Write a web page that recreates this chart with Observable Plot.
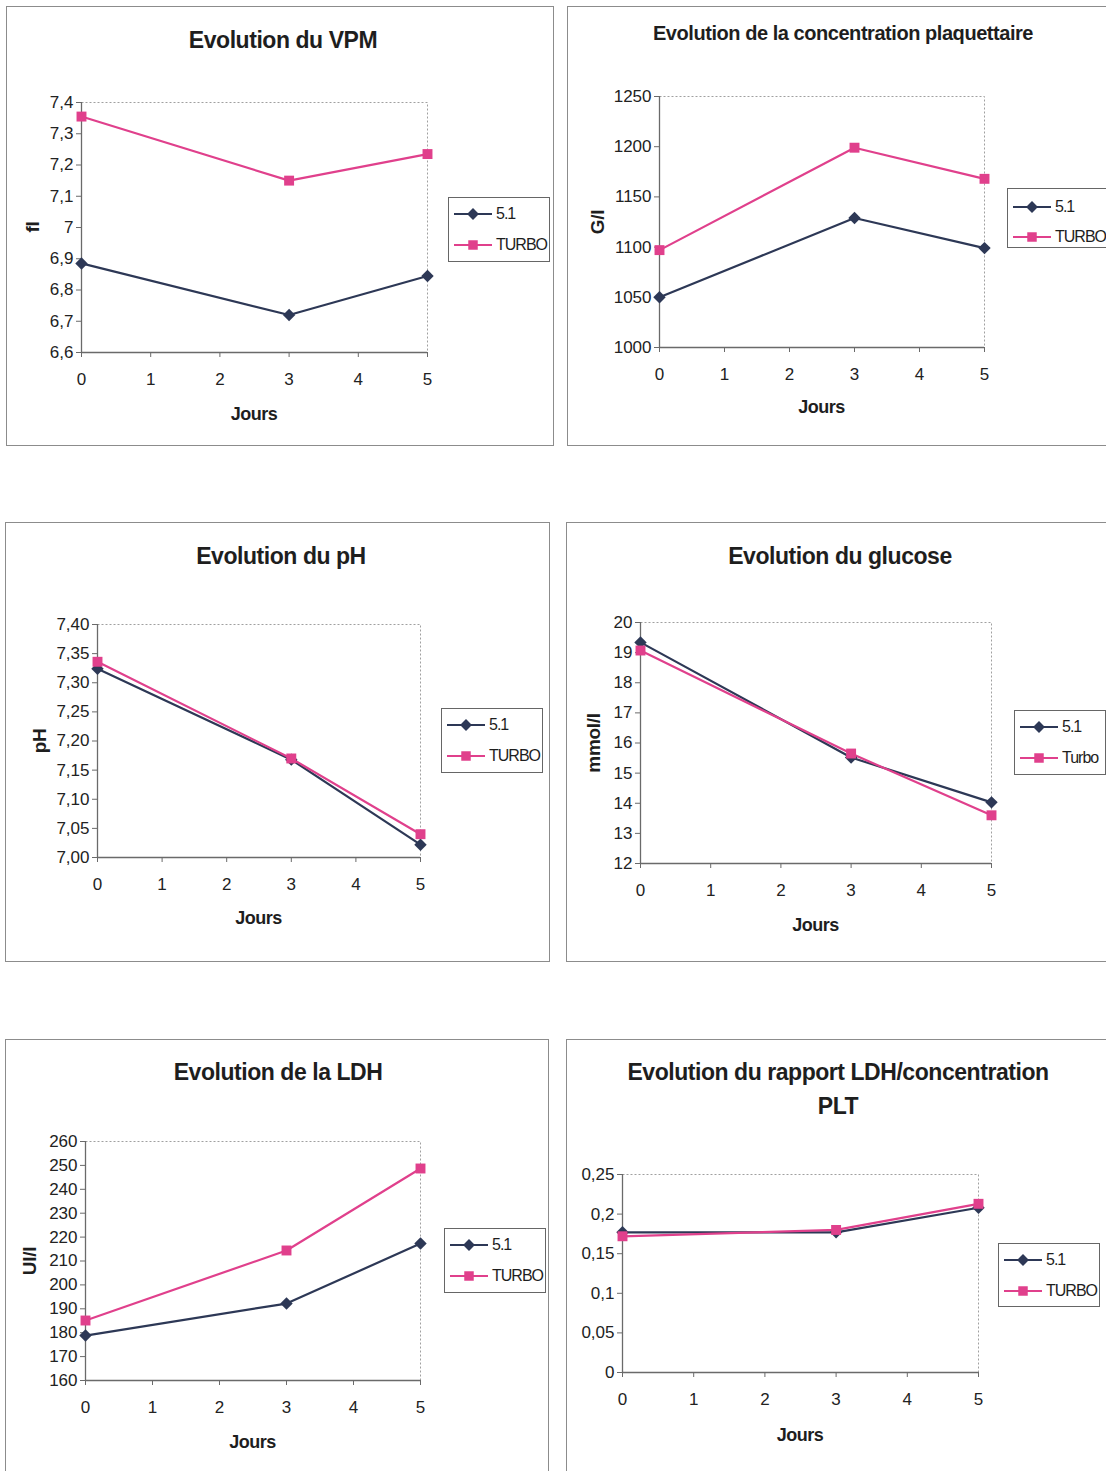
<!DOCTYPE html>
<html>
<head>
<meta charset="utf-8">
<script src="https://cdn.jsdelivr.net/npm/d3@7"></script>
<script src="https://cdn.jsdelivr.net/npm/@observablehq/plot@0.6"></script>
<style>
  html, body { margin: 0; padding: 0; background: #fff; overflow: hidden; }
  #page { position: relative; width: 1106px; height: 1471px; overflow: hidden; background: #fff;
          font-family: "Liberation Sans", Arial, sans-serif; color: #1e1e1e; }
  .box { position: absolute; border: 1.5px solid #8c8c8c; box-sizing: border-box; background: #fff; }
  .title { position: absolute; font-weight: bold; white-space: nowrap; transform: translate(-50%, -50%); letter-spacing: -0.45px; }
  .xlab { position: absolute; font-weight: bold; font-size: 18px; transform: translate(-50%, -50%); letter-spacing: -0.5px; }
  .ylab { position: absolute; font-weight: bold; font-size: 19px; white-space: nowrap; transform: translate(-50%, -50%) rotate(-90deg); letter-spacing: -0.3px; }
  .legend { position: absolute; border: 1.5px solid #666; box-sizing: border-box; background: #fff; }
  .lg-row { position: absolute; left: 4px; display: flex; align-items: center; font-size: 16px; letter-spacing: -1px; transform: translateY(-50%); }
  .lg-row svg { display: block; margin-right: 3px; }
  .plotwrap { position: absolute; }
</style>
</head>
<body>
<div id="page"></div>
<script>
// ---------- data ----------
const days = [0, 3, 5];
const seriesNames = ["5.1", "TURBO"];
const seriesNamesGlucose = ["5.1", "Turbo"];
const seriesColors = ["#2d3856", "#e0408c"];
const seriesSymbols = ["diamond2", "square"];

const vpm51 = [6.885, 6.72, 6.845];
const vpmTurbo = [7.355, 7.15, 7.235];
const vpmTicks = [6.6, 6.7, 6.8, 6.9, 7, 7.1, 7.2, 7.3, 7.4];
const vpmTickLabels = ["6,6", "6,7", "6,8", "6,9", "7", "7,1", "7,2", "7,3", "7,4"];

const plt51 = [1050, 1129, 1099];
const pltTurbo = [1097, 1199, 1168];
const pltTicks = [1000, 1050, 1100, 1150, 1200, 1250];
const pltTickLabels = ["1000", "1050", "1100", "1150", "1200", "1250"];

const ph51 = [7.324, 7.168, 7.022];
const phTurbo = [7.336, 7.17, 7.04];
const phTicks = [7.0, 7.05, 7.1, 7.15, 7.2, 7.25, 7.3, 7.35, 7.4];
const phTickLabels = ["7,00", "7,05", "7,10", "7,15", "7,20", "7,25", "7,30", "7,35", "7,40"];

const glu51 = [19.34, 15.52, 14.03];
const gluTurbo = [19.07, 15.65, 13.6];
const gluTicks = [12, 13, 14, 15, 16, 17, 18, 19, 20];
const gluTickLabels = ["12", "13", "14", "15", "16", "17", "18", "19", "20"];

const ldh51 = [178.8, 192.2, 217.3];
const ldhTurbo = [185.1, 214.4, 248.7];
const ldhTicks = [160, 170, 180, 190, 200, 210, 220, 230, 240, 250, 260];
const ldhTickLabels = ["160", "170", "180", "190", "200", "210", "220", "230", "240", "250", "260"];

const ratio51 = [0.177, 0.177, 0.208];
const ratioTurbo = [0.172, 0.18, 0.213];
const ratioTicks = [0, 0.05, 0.1, 0.15, 0.2, 0.25];
const ratioTickLabels = ["0", "0,05", "0,1", "0,15", "0,2", "0,25"];

const xTicks = [0, 1, 2, 3, 4, 5];
const xTickLabels = ["0", "1", "2", "3", "4", "5"];
const xLabel = "Jours";

// ---------- layout (page pixels) ----------
const panels = [
  { title: ["Evolution du VPM"], titleSize: 23, titleX: 283, titleY: [40],
    box: {x: 6, y: 6, w: 548, h: 440}, frame: {x0: 81, x1: 427, y0: 102, y1: 352},
    ylabel: "fl", ylabelX: 33, jy: 414,
    legend: {x: 448, y: 197, w: 102, h: 65, r1: 16, r2: 47},
    names: seriesNames, s1: vpm51, s2: vpmTurbo, ticks: vpmTicks, labels: vpmTickLabels },
  { title: ["Evolution de la concentration plaquettaire"], titleSize: 20, titleX: 843, titleY: [33],
    box: {x: 567, y: 6, w: 548, h: 440}, frame: {x0: 659, x1: 984, y0: 96, y1: 347},
    ylabel: "G/l", ylabelX: 598, jy: 407,
    legend: {x: 1007, y: 188, w: 110, h: 60, r1: 18, r2: 48},
    names: seriesNames, s1: plt51, s2: pltTurbo, ticks: pltTicks, labels: pltTickLabels },
  { title: ["Evolution du pH"], titleSize: 23, titleX: 281, titleY: [556],
    box: {x: 5, y: 522, w: 545, h: 440}, frame: {x0: 97, x1: 420, y0: 624, y1: 857},
    ylabel: "pH", ylabelX: 40, jy: 918,
    legend: {x: 441, y: 708, w: 102, h: 65, r1: 16, r2: 47},
    names: seriesNames, s1: ph51, s2: phTurbo, ticks: phTicks, labels: phTickLabels },
  { title: ["Evolution du glucose"], titleSize: 23, titleX: 840, titleY: [556],
    box: {x: 566, y: 522, w: 548, h: 440}, frame: {x0: 640, x1: 991, y0: 622, y1: 863},
    ylabel: "mmol/l", ylabelX: 594, jy: 925,
    legend: {x: 1014, y: 710, w: 92, h: 65, r1: 16, r2: 47},
    names: seriesNamesGlucose, s1: glu51, s2: gluTurbo, ticks: gluTicks, labels: gluTickLabels },
  { title: ["Evolution de la LDH"], titleSize: 23, titleX: 278, titleY: [1072],
    box: {x: 5, y: 1039, w: 544, h: 450}, frame: {x0: 85, x1: 420, y0: 1141, y1: 1380},
    ylabel: "UI/l", ylabelX: 30, jy: 1442,
    legend: {x: 444, y: 1228, w: 102, h: 65, r1: 16, r2: 47},
    names: seriesNames, s1: ldh51, s2: ldhTurbo, ticks: ldhTicks, labels: ldhTickLabels },
  { title: ["Evolution du rapport LDH/concentration", "PLT"], titleSize: 23, titleX: 838, titleY: [1072, 1106],
    box: {x: 566, y: 1039, w: 548, h: 450}, frame: {x0: 622, x1: 978, y0: 1174, y1: 1372},
    ylabel: null, ylabelX: 0, jy: 1435,
    legend: {x: 998, y: 1243, w: 102, h: 64, r1: 16, r2: 47},
    names: seriesNames, s1: ratio51, s2: ratioTurbo, ticks: ratioTicks, labels: ratioTickLabels }
];

const page = document.getElementById("page");

function el(tag, cls, styles, text) {
  const e = document.createElement(tag);
  if (cls) e.className = cls;
  Object.assign(e.style, styles || {});
  if (text != null) e.textContent = text;
  page.appendChild(e);
  return e;
}

function legendSwatch(color, symbol) {
  const ns = "http://www.w3.org/2000/svg";
  const svg = document.createElementNS(ns, "svg");
  svg.setAttribute("width", 40); svg.setAttribute("height", 14);
  const line = document.createElementNS(ns, "line");
  line.setAttribute("x1", 1); line.setAttribute("x2", 39);
  line.setAttribute("y1", 7); line.setAttribute("y2", 7);
  line.setAttribute("stroke", color); line.setAttribute("stroke-width", 2);
  svg.appendChild(line);
  const p = document.createElementNS(ns, "path");
  const sym = symbol === "square" ? d3.symbolSquare : d3.symbolDiamond2;
  p.setAttribute("d", d3.symbol(sym, 90)());
  p.setAttribute("transform", "translate(20,7)");
  p.setAttribute("fill", color);
  svg.appendChild(p);
  return svg;
}

const xLabelMap = new Map(xTicks.map((t, i) => [t, xTickLabels[i]]));

for (const P of panels) {
  // panel border
  el("div", "box", {left: P.box.x + "px", top: P.box.y + "px", width: P.box.w + "px", height: P.box.h + "px"});

  // chart
  const rows = [];
  days.forEach((d, i) => rows.push({day: d, value: P.s1[i], series: P.names[0]}));
  days.forEach((d, i) => rows.push({day: d, value: P.s2[i], series: P.names[1]}));
  const labelMap = new Map(P.ticks.map((t, i) => [t, P.labels[i]]));
  const yMin = P.ticks[0], yMax = P.ticks[P.ticks.length - 1];

  const chart = Plot.plot({
    width: P.box.w,
    height: P.box.h,
    marginLeft: P.frame.x0 - P.box.x,
    marginRight: P.box.x + P.box.w - P.frame.x1,
    marginTop: P.frame.y0 - P.box.y,
    marginBottom: P.box.y + P.box.h - P.frame.y1,
    style: {background: "transparent", fontFamily: "'Liberation Sans', Arial, sans-serif",
            fontSize: "17px", color: "#222", overflow: "visible", maxWidth: "none"},
    x: {domain: [0, 5], label: null},
    y: {domain: [yMin, yMax], label: null},
    color: {domain: P.names, range: seriesColors},
    symbol: {domain: P.names, range: seriesSymbols},
    marks: [
      Plot.frame({stroke: "#a0a0a0", strokeDasharray: "2,2"}),
      Plot.ruleX([0], {stroke: "#6a6a6a", strokeWidth: 1.3}),
      Plot.ruleY([yMin], {stroke: "#6a6a6a", strokeWidth: 1.3}),
      Plot.axisX({ticks: xTicks, tickFormat: d => xLabelMap.get(d), tickSize: 5, tickPadding: 15,
                  stroke: "#6a6a6a", fill: "#222", fontSize: 17, label: null}),
      Plot.axisY({ticks: P.ticks, tickFormat: d => labelMap.get(d), tickSize: 5, tickPadding: 3,
                  stroke: "#6a6a6a", fill: "#222", fontSize: 17, letterSpacing: -0.8, label: null}),
      Plot.line(rows, {x: "day", y: "value", z: "series", stroke: "series", strokeWidth: 2.2}),
      Plot.dot(rows, {x: "day", y: "value", symbol: "series", fill: "series", stroke: "none", r: 5.6})
    ]
  });
  const wrap = el("div", "plotwrap", {left: P.box.x + "px", top: P.box.y + "px"});
  wrap.appendChild(chart);

  // title
  P.title.forEach((t, i) => {
    el("div", "title", {left: P.titleX + "px", top: P.titleY[i] + "px", fontSize: P.titleSize + "px"}, t);
  });
  // x label
  el("div", "xlab", {left: ((P.frame.x0 + P.frame.x1) / 2) + "px", top: P.jy + "px"}, xLabel);
  // y label
  if (P.ylabel) {
    el("div", "ylab", {left: P.ylabelX + "px", top: ((P.frame.y0 + P.frame.y1) / 2) + "px"}, P.ylabel);
  }
  // legend
  const L = P.legend;
  const lg = el("div", "legend", {left: L.x + "px", top: L.y + "px", width: L.w + "px", height: L.h + "px"});
  [L.r1, L.r2].forEach((ry, i) => {
    const row = document.createElement("div");
    row.className = "lg-row";
    row.style.top = ry + "px";
    row.appendChild(legendSwatch(seriesColors[i], seriesSymbols[i]));
    const s = document.createElement("span");
    s.textContent = P.names[i];
    row.appendChild(s);
    lg.appendChild(row);
  });
}
</script>
</body>
</html>
